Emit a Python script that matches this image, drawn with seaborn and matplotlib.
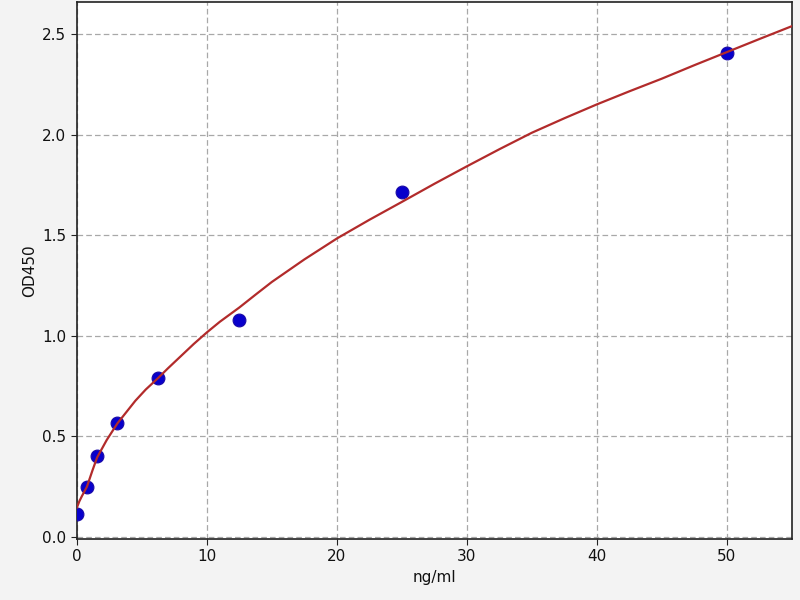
#!/usr/bin/env python3

import matplotlib

matplotlib.use("Agg")
import matplotlib.pyplot as plt
import pandas
import seaborn as sns

# Standard points (concentration vs optical density)
conc = [0, 0.78, 1.56, 3.125, 6.25, 12.5, 25, 50]
od450 = [0.114, 0.248, 0.402, 0.568, 0.791, 1.077, 1.715, 2.405]

# Fitted curve
curve_x = [0, 0.2, 0.4, 0.6, 0.78, 1.2, 1.56, 2.3, 3.125, 4.5, 5.3, 6.25,
           7, 8, 9, 10, 11, 12.5, 13.75, 15, 17.5, 20, 22.5, 25, 27.5, 30,
           32.5, 35, 37.5, 40, 42.5, 45, 47.5, 50, 52.5, 55]
curve_y = [0.145, 0.178, 0.204, 0.228, 0.25, 0.33, 0.395, 0.482, 0.565,
           0.677, 0.733, 0.79, 0.838, 0.899, 0.96, 1.017, 1.07, 1.141, 1.205,
           1.268, 1.38, 1.484, 1.577, 1.666, 1.756, 1.843, 1.928, 2.01, 2.082,
           2.151, 2.216, 2.279, 2.346, 2.411, 2.476, 2.54]

xticks = [0, 10, 20, 30, 40, 50]
yticks = [0.0, 0.5, 1.0, 1.5, 2.0, 2.5]


def make_plot():
    points = pandas.DataFrame({"conc": conc, "od": od450})
    curve = pandas.DataFrame({"conc": curve_x, "od": curve_y})

    sns.set_style("ticks")
    fig = plt.figure(figsize=(8, 6), dpi=100, facecolor="#f3f3f3")
    ax = fig.add_axes([0.096, 0.1017, 0.894, 0.895])
    ax.set_facecolor("white")

    sns.scatterplot(data=points, x="conc", y="od", color="#0800cc", s=85,
                    edgecolor="#1a0aa8", linewidth=0.8, zorder=3, ax=ax)
    sns.lineplot(data=curve, x="conc", y="od", color="#b22b2b", linewidth=1.6,
                 sort=False, zorder=4, ax=ax)

    ax.set_xlim(0, 55)
    ax.set_ylim(-0.01, 2.66)
    ax.set_xticks(xticks)
    ax.set_yticks(yticks)
    ax.set_yticklabels([f"{v:.1f}" for v in yticks])
    ax.grid(True, linestyle=(0, (4.5, 2.5)), color="#a8a8a8", linewidth=0.9)
    ax.set_axisbelow(True)
    for side in ["left", "right", "top", "bottom"]:
        ax.spines[side].set_visible(True)
        ax.spines[side].set_color("#222222")
        ax.spines[side].set_linewidth(1.2)
    ax.tick_params(axis="both", labelsize=11, color="#222222",
                   labelcolor="#111111", length=4)
    ax.set_xlabel("ng/ml", fontsize=11, color="#111111")
    ax.set_ylabel("OD450", fontsize=11, color="#111111")

    fig.savefig("out.png", dpi=100, facecolor=fig.get_facecolor())
    plt.close(fig)


if __name__ == "__main__":
    make_plot()
